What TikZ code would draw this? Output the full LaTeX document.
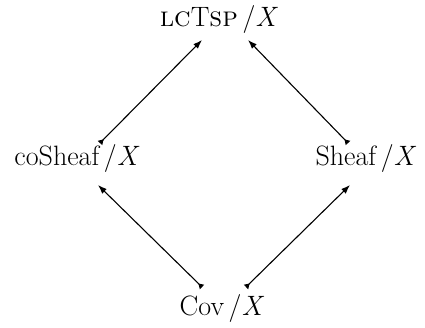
\documentclass[tikz,border=0pt]{standalone}
\usepackage{fontspec}
\usetikzlibrary{arrows.meta}
\begin{document}
\begin{tikzpicture}[x=1pt,y=-1pt,
  lbl/.style={font=\fontsize{28}{34}\selectfont, inner sep=0pt, anchor=base},
  mapto/.style={line width=1.1pt, {Triangle[reversed,length=5pt,width=6pt]}-{Latex[length=9pt,width=6.5pt]}}]
\useasboundingbox (0,0) rectangle (425,327);
\node[lbl] (top) at (219,26) {\textsc{lc}T\textsc{sp}\,/\textit{X}};
\node[lbl] (cosheaf) at (77,165) {coSheaf\,/\textit{X}};
\node[lbl] (sheaf) at (366,165) {Sheaf\,/\textit{X}};
\node[lbl] (cov) at (222,315) {Cov\,/\textit{X}};
\draw[mapto] ([shift={(23,-22)}]cosheaf.base) -- ([shift={(-17,14)}]top.base);
\draw[mapto] ([shift={(-18,-22)}]sheaf.base) -- ([shift={(29,14)}]top.base);
\draw[mapto] ([shift={(-20,-28)}]cov.base) -- ([shift={(21,20)}]cosheaf.base);
\draw[mapto] ([shift={(24,-28)}]cov.base) -- ([shift={(-16,20)}]sheaf.base);
\end{tikzpicture}
\end{document}
